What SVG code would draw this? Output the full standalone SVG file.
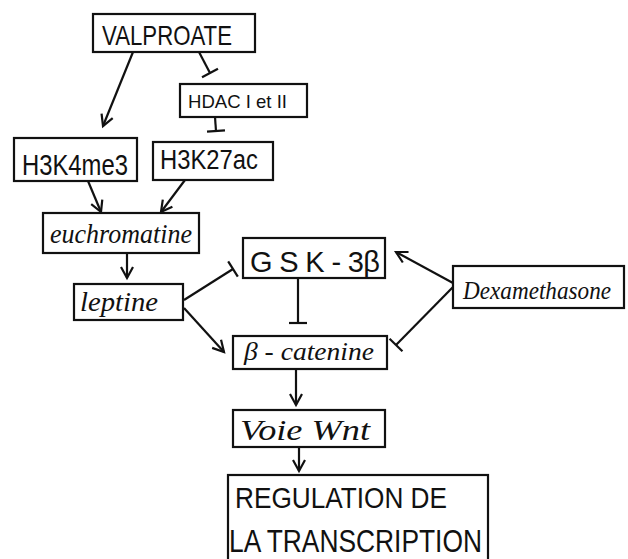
<svg xmlns="http://www.w3.org/2000/svg" width="628" height="559" viewBox="0 0 628 559">
<style>
.box{fill:#fff;stroke:#111;stroke-width:2.2}
.t{font-family:"Liberation Sans",Arial,sans-serif;fill:#111}
.c{font-family:"Liberation Serif","Times New Roman",serif;font-style:italic;fill:#111}
.edge{stroke:#111;stroke-width:2.2;fill:none}
.arr{marker-end:url(#arrow)}
.inh{marker-end:url(#bar)}
</style>
<defs>
<marker id="arrow" markerUnits="userSpaceOnUse" markerWidth="16" markerHeight="16" refX="12" refY="7" orient="auto" viewBox="0 0 16 14">
<path d="M1,1 L12,7 L1,13" fill="none" stroke="#111" stroke-width="2.2"/>
</marker>
<marker id="bar" markerUnits="userSpaceOnUse" markerWidth="6" markerHeight="20" refX="2" refY="10" orient="auto" viewBox="0 0 6 20">
<path d="M2,1 L2,19" fill="none" stroke="#111" stroke-width="2.2"/>
</marker>
</defs>
<g id="connectors">
<line class="edge arr" x1="133" y1="52" x2="103" y2="126"/>
<line class="edge inh" x1="199" y1="52" x2="210" y2="73"/>
<line class="edge inh" x1="215" y1="117" x2="216" y2="131"/>
<line class="edge arr" x1="88" y1="181" x2="101" y2="212"/>
<line class="edge arr" x1="185" y1="180" x2="161" y2="212"/>
<line class="edge arr" x1="127" y1="253" x2="127" y2="278"/>
<line class="edge inh" x1="184" y1="300" x2="233" y2="269"/>
<line class="edge arr" x1="184" y1="308" x2="224" y2="352"/>
<line class="edge inh" x1="298" y1="278" x2="298" y2="323"/>
<line class="edge arr" x1="453" y1="283" x2="396" y2="252"/>
<line class="edge inh" x1="453" y1="287" x2="396" y2="345"/>
<line class="edge arr" x1="296" y1="369" x2="296" y2="405"/>
<line class="edge arr" x1="299" y1="447" x2="299" y2="471"/>
</g>
<g id="valproate">
<rect class="box" x="93" y="14" width="162" height="38"/>
<text class="t" x="102" y="45" font-size="28" textLength="130" lengthAdjust="spacingAndGlyphs">VALPROATE</text>
</g>
<g id="hdac">
<rect class="box" x="180" y="84" width="127" height="33"/>
<text class="t" x="188" y="108" font-size="19" textLength="99" lengthAdjust="spacingAndGlyphs">HDAC I et II</text>
</g>
<g id="h3k4me3">
<rect class="box" x="14" y="138" width="123" height="43"/>
<text class="t" x="22" y="175" font-size="29" textLength="106" lengthAdjust="spacingAndGlyphs">H3K4me3</text>
</g>
<g id="h3k27ac">
<rect class="box" x="153" y="142" width="120" height="38"/>
<text class="t" x="160" y="169" font-size="27" textLength="98" lengthAdjust="spacingAndGlyphs">H3K27ac</text>
</g>
<g id="euchromatine">
<rect class="box" x="43" y="213" width="156" height="40"/>
<text class="c" x="50" y="243" font-size="28" textLength="142" lengthAdjust="spacingAndGlyphs">euchromatine</text>
</g>
<g id="leptine">
<rect class="box" x="74" y="284" width="109" height="36"/>
<text class="c" x="80" y="311" font-size="28" textLength="78" lengthAdjust="spacingAndGlyphs">leptine</text>
</g>
<g id="gsk3b">
<rect class="box" x="243" y="238" width="142" height="40"/>
<text class="t" x="250" y="272" font-size="29" textLength="130" lengthAdjust="spacing">G S K - 3β</text>
</g>
<g id="bcatenine">
<rect class="box" x="233" y="336" width="154" height="33"/>
<text class="c" x="244" y="360" font-size="26" textLength="130" lengthAdjust="spacingAndGlyphs">β - catenine</text>
</g>
<g id="dexamethasone">
<rect class="box" x="453" y="266" width="171" height="42"/>
<text class="c" x="463" y="299" font-size="25" textLength="148" lengthAdjust="spacingAndGlyphs">Dexamethasone</text>
</g>
<g id="wnt">
<rect class="box" x="233" y="410" width="152" height="37"/>
<text class="c" x="240" y="440" font-size="29" textLength="130" lengthAdjust="spacingAndGlyphs">Voie  Wnt</text>
</g>
<g id="regulation">
<rect class="box" x="228" y="475" width="260" height="90"/>
<text class="t" x="235" y="508" font-size="29" textLength="212" lengthAdjust="spacingAndGlyphs">REGULATION DE</text>
<text class="t" x="229" y="552" font-size="31" textLength="253" lengthAdjust="spacingAndGlyphs">LA TRANSCRIPTION</text>
</g>
</svg>
